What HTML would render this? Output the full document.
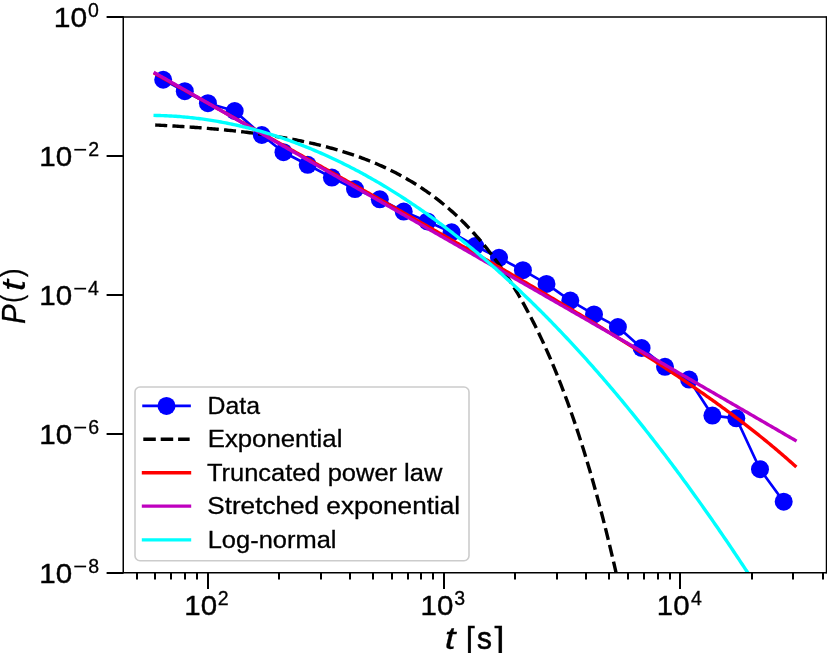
<!DOCTYPE html>
<html><head><meta charset="utf-8"><style>html,body{margin:0;padding:0;background:#fff;width:827px;height:653px;overflow:hidden}svg{display:block;font-family:"Liberation Sans",sans-serif;-webkit-font-smoothing:antialiased;will-change:transform}</style></head><body>
<svg width="827" height="653" viewBox="0 0 827 653" font-family="Liberation Sans, sans-serif">
<rect width="827" height="653" fill="#fff"/>
<defs><clipPath id="ax"><rect x="123.1" y="17.0" width="703.4" height="555.7"/></clipPath></defs>
<g clip-path="url(#ax)">
<path d="M163.20,79.75 L184.80,91.20 L207.90,103.20 L234.70,111.00 L261.80,135.00 L283.50,152.20 L307.70,164.80 L331.90,177.60 L355.00,189.10 L379.80,199.30 L403.70,211.60 L427.40,221.40 L451.60,232.30 L475.20,246.00 L499.00,257.80 L522.90,270.20 L546.50,283.90 L570.30,300.60 L594.00,314.40 L617.90,327.10 L641.60,348.00 L665.00,366.80 L689.10,379.60 L712.40,415.60 L736.30,418.30 L760.00,469.20 L783.70,501.70" fill="none" stroke="#0000ff" stroke-width="2.7" stroke-linejoin="round" stroke-linecap="square"/>
<circle cx="163.2" cy="79.75" r="9.0" fill="#0000ff"/>
<circle cx="184.8" cy="91.2" r="9.0" fill="#0000ff"/>
<circle cx="207.9" cy="103.2" r="9.0" fill="#0000ff"/>
<circle cx="234.7" cy="111.0" r="9.0" fill="#0000ff"/>
<circle cx="261.8" cy="135.0" r="9.0" fill="#0000ff"/>
<circle cx="283.5" cy="152.2" r="9.0" fill="#0000ff"/>
<circle cx="307.7" cy="164.8" r="9.0" fill="#0000ff"/>
<circle cx="331.9" cy="177.6" r="9.0" fill="#0000ff"/>
<circle cx="355.0" cy="189.1" r="9.0" fill="#0000ff"/>
<circle cx="379.8" cy="199.3" r="9.0" fill="#0000ff"/>
<circle cx="403.7" cy="211.6" r="9.0" fill="#0000ff"/>
<circle cx="427.4" cy="221.4" r="9.0" fill="#0000ff"/>
<circle cx="451.6" cy="232.3" r="9.0" fill="#0000ff"/>
<circle cx="475.2" cy="246.0" r="9.0" fill="#0000ff"/>
<circle cx="499.0" cy="257.8" r="9.0" fill="#0000ff"/>
<circle cx="522.9" cy="270.2" r="9.0" fill="#0000ff"/>
<circle cx="546.5" cy="283.9" r="9.0" fill="#0000ff"/>
<circle cx="570.3" cy="300.6" r="9.0" fill="#0000ff"/>
<circle cx="594.0" cy="314.4" r="9.0" fill="#0000ff"/>
<circle cx="617.9" cy="327.1" r="9.0" fill="#0000ff"/>
<circle cx="641.6" cy="348.0" r="9.0" fill="#0000ff"/>
<circle cx="665.0" cy="366.8" r="9.0" fill="#0000ff"/>
<circle cx="689.1" cy="379.6" r="9.0" fill="#0000ff"/>
<circle cx="712.4" cy="415.6" r="9.0" fill="#0000ff"/>
<circle cx="736.3" cy="418.3" r="9.0" fill="#0000ff"/>
<circle cx="760.0" cy="469.2" r="9.0" fill="#0000ff"/>
<circle cx="783.7" cy="501.7" r="9.0" fill="#0000ff"/>
<path d="M155.20,125.01 L156.80,125.09 L158.41,125.17 L160.01,125.25 L161.62,125.33 L163.22,125.42 L164.82,125.51 L166.43,125.59 L168.03,125.68 L169.63,125.77 L171.24,125.87 L172.84,125.96 L174.45,126.05 L176.05,126.15 L177.65,126.25 L179.26,126.35 L180.86,126.45 L182.46,126.55 L184.07,126.66 L185.67,126.76 L187.28,126.87 L188.88,126.98 L190.48,127.09 L192.09,127.20 L193.69,127.32 L195.29,127.43 L196.90,127.55 L198.50,127.67 L200.11,127.79 L201.71,127.92 L203.31,128.04 L204.92,128.17 L206.52,128.30 L208.12,128.43 L209.73,128.57 L211.33,128.70 L212.94,128.84 L214.54,128.98 L216.14,129.12 L217.75,129.27 L219.35,129.42 L220.95,129.57 L222.56,129.72 L224.16,129.87 L225.77,130.03 L227.37,130.19 L228.97,130.35 L230.58,130.51 L232.18,130.68 L233.78,130.85 L235.39,131.02 L236.99,131.20 L238.60,131.37 L240.20,131.55 L241.80,131.74 L243.41,131.92 L245.01,132.11 L246.61,132.30 L248.22,132.50 L249.82,132.70 L251.43,132.90 L253.03,133.10 L254.63,133.31 L256.24,133.52 L257.84,133.73 L259.44,133.95 L261.05,134.17 L262.65,134.40 L264.26,134.62 L265.86,134.86 L267.46,135.09 L269.07,135.33 L270.67,135.57 L272.27,135.82 L273.88,136.07 L275.48,136.32 L277.09,136.58 L278.69,136.84 L280.29,137.11 L281.90,137.38 L283.50,137.66 L285.10,137.93 L286.71,138.22 L288.31,138.51 L289.92,138.80 L291.52,139.10 L293.12,139.40 L294.73,139.70 L296.33,140.02 L297.93,140.33 L299.54,140.65 L301.14,140.98 L302.75,141.31 L304.35,141.65 L305.95,141.99 L307.56,142.34 L309.16,142.69 L310.76,143.05 L312.37,143.41 L313.97,143.78 L315.58,144.16 L317.18,144.54 L318.78,144.93 L320.39,145.32 L321.99,145.72 L323.59,146.13 L325.20,146.54 L326.80,146.96 L328.41,147.39 L330.01,147.82 L331.61,148.26 L333.22,148.70 L334.82,149.16 L336.42,149.62 L338.03,150.08 L339.63,150.56 L341.24,151.04 L342.84,151.53 L344.44,152.03 L346.05,152.53 L347.65,153.05 L349.25,153.57 L350.86,154.10 L352.46,154.64 L354.07,155.18 L355.67,155.74 L357.27,156.30 L358.88,156.88 L360.48,157.46 L362.08,158.05 L363.69,158.65 L365.29,159.26 L366.90,159.88 L368.50,160.51 L370.10,161.15 L371.71,161.80 L373.31,162.46 L374.92,163.13 L376.52,163.81 L378.12,164.50 L379.73,165.20 L381.33,165.91 L382.93,166.64 L384.54,167.37 L386.14,168.12 L387.75,168.88 L389.35,169.65 L390.95,170.43 L392.56,171.23 L394.16,172.04 L395.76,172.86 L397.37,173.69 L398.97,174.54 L400.58,175.40 L402.18,176.27 L403.78,177.16 L405.39,178.06 L406.99,178.98 L408.59,179.91 L410.20,180.85 L411.80,181.81 L413.41,182.78 L415.01,183.77 L416.61,184.78 L418.22,185.80 L419.82,186.84 L421.42,187.89 L423.03,188.96 L424.63,190.05 L426.24,191.15 L427.84,192.28 L429.44,193.42 L431.05,194.57 L432.65,195.75 L434.25,196.94 L435.86,198.16 L437.46,199.39 L439.07,200.64 L440.67,201.91 L442.27,203.20 L443.88,204.51 L445.48,205.85 L447.08,207.20 L448.69,208.57 L450.29,209.97 L451.90,211.39 L453.50,212.83 L455.10,214.29 L456.71,215.78 L458.31,217.29 L459.91,218.82 L461.52,220.38 L463.12,221.96 L464.73,223.57 L466.33,225.20 L467.93,226.86 L469.54,228.54 L471.14,230.25 L472.74,231.99 L474.35,233.75 L475.95,235.55 L477.56,237.37 L479.16,239.22 L480.76,241.10 L482.37,243.01 L483.97,244.94 L485.57,246.91 L487.18,248.91 L488.78,250.94 L490.39,253.01 L491.99,255.10 L493.59,257.23 L495.20,259.40 L496.80,261.59 L498.40,263.82 L500.01,266.09 L501.61,268.39 L503.22,270.73 L504.82,273.11 L506.42,275.52 L508.03,277.97 L509.63,280.46 L511.23,282.99 L512.84,285.55 L514.44,288.16 L516.05,290.81 L517.65,293.50 L519.25,296.24 L520.86,299.01 L522.46,301.84 L524.06,304.70 L525.67,307.61 L527.27,310.57 L528.88,313.57 L530.48,316.62 L532.08,319.72 L533.69,322.86 L535.29,326.06 L536.89,329.31 L538.50,332.60 L540.10,335.95 L541.71,339.36 L543.31,342.81 L544.91,346.32 L546.52,349.89 L548.12,353.51 L549.72,357.19 L551.33,360.93 L552.93,364.72 L554.54,368.58 L556.14,372.49 L557.74,376.47 L559.35,380.51 L560.95,384.62 L562.55,388.79 L564.16,393.02 L565.76,397.32 L567.37,401.69 L568.97,406.13 L570.57,410.64 L572.18,415.21 L573.78,419.87 L575.38,424.59 L576.99,429.39 L578.59,434.26 L580.20,439.21 L581.80,444.24 L583.40,449.35 L585.01,454.54 L586.61,459.81 L588.22,465.16 L589.82,470.60 L591.42,476.12 L593.03,481.73 L594.63,487.43 L596.23,493.22 L597.84,499.10 L599.44,505.07 L601.05,511.14 L602.65,517.30 L604.25,523.56 L605.86,529.91 L607.46,536.37 L609.06,542.93 L610.67,549.59 L612.27,556.36 L613.88,563.23 L615.48,570.22 L617.08,577.31 L618.69,584.51 L620.29,591.83 L621.89,599.26 L623.50,606.81 L625.10,614.48 L626.71,622.27 L628.31,630.18 L629.91,638.22 L631.52,646.38 L633.12,654.67 L634.72,663.10 L636.33,671.65 L637.93,680.34 L639.54,689.17 L641.14,698.13 L642.74,707.24 L644.35,716.49 L645.95,725.89 L647.55,735.43 L649.16,745.12 L650.76,754.97 L652.37,764.97 L653.97,775.13 L655.57,785.45 L657.18,795.93 L658.78,806.58 L660.38,817.40 L661.99,828.38 L663.59,839.54 L665.20,850.87 L666.80,862.39 L668.40,874.08 L670.01,885.96 L671.61,898.02 L673.21,910.28 L674.82,922.73 L676.42,935.37 L678.03,948.22 L679.63,961.26 L681.23,974.51 L682.84,987.97 L684.44,1001.64 L686.04,1015.53 L687.65,1029.64 L689.25,1043.97 L690.86,1058.52 L692.46,1073.30 L694.06,1088.32 L695.67,1103.57 L697.27,1119.06 L698.87,1134.80 L700.48,1150.79 L702.08,1167.02 L703.69,1183.51 L705.29,1200.27 L706.89,1217.28 L708.50,1234.56 L710.10,1252.12 L711.70,1269.95 L713.31,1288.07 L714.91,1306.46 L716.52,1325.15 L718.12,1344.14 L719.72,1363.42 L721.33,1383.00 L722.93,1402.90 L724.53,1423.10 L726.14,1443.63 L727.74,1464.48 L729.35,1485.65 L730.95,1507.17 L732.55,1529.01 L734.16,1551.21 L735.76,1573.75 L737.36,1596.65 L738.97,1619.91 L740.57,1643.53 L742.18,1667.53 L743.78,1691.91 L745.38,1716.66 L746.99,1741.81 L748.59,1767.36 L750.19,1793.31 L751.80,1819.66 L753.40,1846.43 L755.01,1873.63 L756.61,1901.25 L758.21,1929.30 L759.82,1957.80 L761.42,1986.75 L763.02,2016.15 L764.63,2046.02 L766.23,2076.36 L767.84,2107.17 L769.44,2138.47 L771.04,2170.26 L772.65,2202.56 L774.25,2235.36 L775.85,2268.68 L777.46,2302.52 L779.06,2336.90 L780.67,2371.81 L782.27,2407.28 L783.87,2443.31 L785.48,2479.90 L787.08,2517.07 L788.68,2554.83 L790.29,2593.18 L791.89,2632.13 L793.50,2671.70 L795.10,2711.89" fill="none" stroke="#000" stroke-width="3.4" stroke-dasharray="12.05 5.19" stroke-linejoin="round"/>
<path d="M155.20,73.70 L156.80,74.60 L158.41,75.49 L160.01,76.39 L161.62,77.29 L163.22,78.19 L164.82,79.09 L166.43,79.98 L168.03,80.88 L169.63,81.78 L171.24,82.68 L172.84,83.58 L174.45,84.47 L176.05,85.37 L177.65,86.27 L179.26,87.17 L180.86,88.06 L182.46,88.96 L184.07,89.86 L185.67,90.76 L187.28,91.65 L188.88,92.55 L190.48,93.45 L192.09,94.35 L193.69,95.24 L195.29,96.14 L196.90,97.04 L198.50,97.93 L200.11,98.83 L201.71,99.73 L203.31,100.62 L204.92,101.52 L206.52,102.42 L208.12,103.32 L209.73,104.21 L211.33,105.11 L212.94,106.01 L214.54,106.90 L216.14,107.80 L217.75,108.70 L219.35,109.59 L220.95,110.49 L222.56,111.39 L224.16,112.28 L225.77,113.18 L227.37,114.08 L228.97,114.97 L230.58,115.87 L232.18,116.77 L233.78,117.66 L235.39,118.56 L236.99,119.45 L238.60,120.35 L240.20,121.25 L241.80,122.14 L243.41,123.04 L245.01,123.94 L246.61,124.83 L248.22,125.73 L249.82,126.63 L251.43,127.52 L253.03,128.42 L254.63,129.32 L256.24,130.21 L257.84,131.11 L259.44,132.00 L261.05,132.90 L262.65,133.80 L264.26,134.69 L265.86,135.59 L267.46,136.49 L269.07,137.38 L270.67,138.28 L272.27,139.18 L273.88,140.07 L275.48,140.97 L277.09,141.87 L278.69,142.76 L280.29,143.66 L281.90,144.56 L283.50,145.45 L285.10,146.35 L286.71,147.25 L288.31,148.14 L289.92,149.04 L291.52,149.94 L293.12,150.83 L294.73,151.73 L296.33,152.63 L297.93,153.52 L299.54,154.42 L301.14,155.32 L302.75,156.21 L304.35,157.11 L305.95,158.01 L307.56,158.91 L309.16,159.80 L310.76,160.70 L312.37,161.60 L313.97,162.50 L315.58,163.39 L317.18,164.29 L318.78,165.19 L320.39,166.09 L321.99,166.98 L323.59,167.88 L325.20,168.78 L326.80,169.68 L328.41,170.58 L330.01,171.47 L331.61,172.37 L333.22,173.27 L334.82,174.17 L336.42,175.07 L338.03,175.97 L339.63,176.87 L341.24,177.76 L342.84,178.66 L344.44,179.56 L346.05,180.46 L347.65,181.36 L349.25,182.26 L350.86,183.16 L352.46,184.06 L354.07,184.96 L355.67,185.86 L357.27,186.76 L358.88,187.66 L360.48,188.56 L362.08,189.46 L363.69,190.36 L365.29,191.26 L366.90,192.16 L368.50,193.06 L370.10,193.96 L371.71,194.86 L373.31,195.76 L374.92,196.66 L376.52,197.56 L378.12,198.47 L379.73,199.37 L381.33,200.27 L382.93,201.17 L384.54,202.07 L386.14,202.98 L387.75,203.88 L389.35,204.78 L390.95,205.68 L392.56,206.59 L394.16,207.49 L395.76,208.39 L397.37,209.30 L398.97,210.20 L400.58,211.10 L402.18,212.01 L403.78,212.91 L405.39,213.82 L406.99,214.72 L408.59,215.63 L410.20,216.53 L411.80,217.44 L413.41,218.34 L415.01,219.25 L416.61,220.16 L418.22,221.06 L419.82,221.97 L421.42,222.88 L423.03,223.78 L424.63,224.69 L426.24,225.60 L427.84,226.50 L429.44,227.41 L431.05,228.32 L432.65,229.23 L434.25,230.14 L435.86,231.05 L437.46,231.96 L439.07,232.87 L440.67,233.78 L442.27,234.69 L443.88,235.60 L445.48,236.51 L447.08,237.42 L448.69,238.33 L450.29,239.24 L451.90,240.15 L453.50,241.07 L455.10,241.98 L456.71,242.89 L458.31,243.81 L459.91,244.72 L461.52,245.63 L463.12,246.55 L464.73,247.46 L466.33,248.38 L467.93,249.29 L469.54,250.21 L471.14,251.13 L472.74,252.04 L474.35,252.96 L475.95,253.88 L477.56,254.80 L479.16,255.72 L480.76,256.63 L482.37,257.55 L483.97,258.47 L485.57,259.39 L487.18,260.32 L488.78,261.24 L490.39,262.16 L491.99,263.08 L493.59,264.00 L495.20,264.93 L496.80,265.85 L498.40,266.77 L500.01,267.70 L501.61,268.62 L503.22,269.55 L504.82,270.48 L506.42,271.40 L508.03,272.33 L509.63,273.26 L511.23,274.19 L512.84,275.11 L514.44,276.04 L516.05,276.97 L517.65,277.91 L519.25,278.84 L520.86,279.77 L522.46,280.70 L524.06,281.64 L525.67,282.57 L527.27,283.50 L528.88,284.44 L530.48,285.38 L532.08,286.31 L533.69,287.25 L535.29,288.19 L536.89,289.13 L538.50,290.07 L540.10,291.01 L541.71,291.95 L543.31,292.89 L544.91,293.83 L546.52,294.78 L548.12,295.72 L549.72,296.67 L551.33,297.61 L552.93,298.56 L554.54,299.51 L556.14,300.46 L557.74,301.40 L559.35,302.36 L560.95,303.31 L562.55,304.26 L564.16,305.21 L565.76,306.17 L567.37,307.12 L568.97,308.08 L570.57,309.03 L572.18,309.99 L573.78,310.95 L575.38,311.91 L576.99,312.87 L578.59,313.83 L580.20,314.80 L581.80,315.76 L583.40,316.73 L585.01,317.69 L586.61,318.66 L588.22,319.63 L589.82,320.60 L591.42,321.57 L593.03,322.55 L594.63,323.52 L596.23,324.50 L597.84,325.47 L599.44,326.45 L601.05,327.43 L602.65,328.41 L604.25,329.39 L605.86,330.37 L607.46,331.36 L609.06,332.34 L610.67,333.33 L612.27,334.32 L613.88,335.31 L615.48,336.30 L617.08,337.30 L618.69,338.29 L620.29,339.29 L621.89,340.29 L623.50,341.29 L625.10,342.29 L626.71,343.29 L628.31,344.30 L629.91,345.30 L631.52,346.31 L633.12,347.32 L634.72,348.33 L636.33,349.35 L637.93,350.36 L639.54,351.38 L641.14,352.40 L642.74,353.42 L644.35,354.44 L645.95,355.47 L647.55,356.50 L649.16,357.53 L650.76,358.56 L652.37,359.59 L653.97,360.63 L655.57,361.67 L657.18,362.71 L658.78,363.75 L660.38,364.79 L661.99,365.84 L663.59,366.89 L665.20,367.94 L666.80,369.00 L668.40,370.06 L670.01,371.12 L671.61,372.18 L673.21,373.24 L674.82,374.31 L676.42,375.38 L678.03,376.45 L679.63,377.53 L681.23,378.61 L682.84,379.69 L684.44,380.77 L686.04,381.86 L687.65,382.95 L689.25,384.04 L690.86,385.14 L692.46,386.24 L694.06,387.34 L695.67,388.45 L697.27,389.55 L698.87,390.67 L700.48,391.78 L702.08,392.90 L703.69,394.02 L705.29,395.15 L706.89,396.28 L708.50,397.41 L710.10,398.55 L711.70,399.69 L713.31,400.83 L714.91,401.98 L716.52,403.13 L718.12,404.29 L719.72,405.45 L721.33,406.61 L722.93,407.78 L724.53,408.96 L726.14,410.13 L727.74,411.31 L729.35,412.50 L730.95,413.69 L732.55,414.88 L734.16,416.08 L735.76,417.29 L737.36,418.50 L738.97,419.71 L740.57,420.93 L742.18,422.15 L743.78,423.38 L745.38,424.62 L746.99,425.85 L748.59,427.10 L750.19,428.35 L751.80,429.60 L753.40,430.86 L755.01,432.13 L756.61,433.40 L758.21,434.68 L759.82,435.97 L761.42,437.25 L763.02,438.55 L764.63,439.85 L766.23,441.16 L767.84,442.48 L769.44,443.80 L771.04,445.13 L772.65,446.46 L774.25,447.80 L775.85,449.15 L777.46,450.51 L779.06,451.87 L780.67,453.24 L782.27,454.61 L783.87,456.00 L785.48,457.39 L787.08,458.79 L788.68,460.20 L790.29,461.61 L791.89,463.04 L793.50,464.47 L795.10,465.91" fill="none" stroke="#ff0000" stroke-width="3.4" stroke-linecap="square" stroke-linejoin="round"/>
<path d="M155.20,73.13 L156.80,74.05 L158.41,74.96 L160.01,75.87 L161.62,76.78 L163.22,77.69 L164.82,78.60 L166.43,79.52 L168.03,80.43 L169.63,81.34 L171.24,82.25 L172.84,83.16 L174.45,84.08 L176.05,84.99 L177.65,85.90 L179.26,86.81 L180.86,87.73 L182.46,88.64 L184.07,89.55 L185.67,90.46 L187.28,91.37 L188.88,92.29 L190.48,93.20 L192.09,94.11 L193.69,95.02 L195.29,95.94 L196.90,96.85 L198.50,97.76 L200.11,98.67 L201.71,99.59 L203.31,100.50 L204.92,101.41 L206.52,102.32 L208.12,103.24 L209.73,104.15 L211.33,105.06 L212.94,105.97 L214.54,106.89 L216.14,107.80 L217.75,108.71 L219.35,109.63 L220.95,110.54 L222.56,111.45 L224.16,112.36 L225.77,113.28 L227.37,114.19 L228.97,115.10 L230.58,116.02 L232.18,116.93 L233.78,117.84 L235.39,118.76 L236.99,119.67 L238.60,120.58 L240.20,121.50 L241.80,122.41 L243.41,123.32 L245.01,124.24 L246.61,125.15 L248.22,126.06 L249.82,126.98 L251.43,127.89 L253.03,128.80 L254.63,129.72 L256.24,130.63 L257.84,131.54 L259.44,132.46 L261.05,133.37 L262.65,134.28 L264.26,135.20 L265.86,136.11 L267.46,137.03 L269.07,137.94 L270.67,138.85 L272.27,139.77 L273.88,140.68 L275.48,141.60 L277.09,142.51 L278.69,143.42 L280.29,144.34 L281.90,145.25 L283.50,146.17 L285.10,147.08 L286.71,147.99 L288.31,148.91 L289.92,149.82 L291.52,150.74 L293.12,151.65 L294.73,152.57 L296.33,153.48 L297.93,154.39 L299.54,155.31 L301.14,156.22 L302.75,157.14 L304.35,158.05 L305.95,158.97 L307.56,159.88 L309.16,160.80 L310.76,161.71 L312.37,162.63 L313.97,163.54 L315.58,164.46 L317.18,165.37 L318.78,166.29 L320.39,167.20 L321.99,168.12 L323.59,169.03 L325.20,169.95 L326.80,170.86 L328.41,171.78 L330.01,172.69 L331.61,173.61 L333.22,174.52 L334.82,175.44 L336.42,176.35 L338.03,177.27 L339.63,178.18 L341.24,179.10 L342.84,180.01 L344.44,180.93 L346.05,181.85 L347.65,182.76 L349.25,183.68 L350.86,184.59 L352.46,185.51 L354.07,186.42 L355.67,187.34 L357.27,188.26 L358.88,189.17 L360.48,190.09 L362.08,191.00 L363.69,191.92 L365.29,192.84 L366.90,193.75 L368.50,194.67 L370.10,195.58 L371.71,196.50 L373.31,197.42 L374.92,198.33 L376.52,199.25 L378.12,200.17 L379.73,201.08 L381.33,202.00 L382.93,202.92 L384.54,203.83 L386.14,204.75 L387.75,205.67 L389.35,206.58 L390.95,207.50 L392.56,208.42 L394.16,209.33 L395.76,210.25 L397.37,211.17 L398.97,212.08 L400.58,213.00 L402.18,213.92 L403.78,214.83 L405.39,215.75 L406.99,216.67 L408.59,217.59 L410.20,218.50 L411.80,219.42 L413.41,220.34 L415.01,221.26 L416.61,222.17 L418.22,223.09 L419.82,224.01 L421.42,224.93 L423.03,225.84 L424.63,226.76 L426.24,227.68 L427.84,228.60 L429.44,229.51 L431.05,230.43 L432.65,231.35 L434.25,232.27 L435.86,233.19 L437.46,234.10 L439.07,235.02 L440.67,235.94 L442.27,236.86 L443.88,237.78 L445.48,238.70 L447.08,239.61 L448.69,240.53 L450.29,241.45 L451.90,242.37 L453.50,243.29 L455.10,244.21 L456.71,245.12 L458.31,246.04 L459.91,246.96 L461.52,247.88 L463.12,248.80 L464.73,249.72 L466.33,250.64 L467.93,251.56 L469.54,252.48 L471.14,253.39 L472.74,254.31 L474.35,255.23 L475.95,256.15 L477.56,257.07 L479.16,257.99 L480.76,258.91 L482.37,259.83 L483.97,260.75 L485.57,261.67 L487.18,262.59 L488.78,263.51 L490.39,264.43 L491.99,265.35 L493.59,266.27 L495.20,267.19 L496.80,268.11 L498.40,269.03 L500.01,269.95 L501.61,270.87 L503.22,271.79 L504.82,272.71 L506.42,273.63 L508.03,274.55 L509.63,275.47 L511.23,276.39 L512.84,277.31 L514.44,278.23 L516.05,279.15 L517.65,280.07 L519.25,280.99 L520.86,281.91 L522.46,282.83 L524.06,283.75 L525.67,284.67 L527.27,285.60 L528.88,286.52 L530.48,287.44 L532.08,288.36 L533.69,289.28 L535.29,290.20 L536.89,291.12 L538.50,292.04 L540.10,292.97 L541.71,293.89 L543.31,294.81 L544.91,295.73 L546.52,296.65 L548.12,297.57 L549.72,298.49 L551.33,299.42 L552.93,300.34 L554.54,301.26 L556.14,302.18 L557.74,303.10 L559.35,304.03 L560.95,304.95 L562.55,305.87 L564.16,306.79 L565.76,307.71 L567.37,308.64 L568.97,309.56 L570.57,310.48 L572.18,311.40 L573.78,312.33 L575.38,313.25 L576.99,314.17 L578.59,315.10 L580.20,316.02 L581.80,316.94 L583.40,317.86 L585.01,318.79 L586.61,319.71 L588.22,320.63 L589.82,321.56 L591.42,322.48 L593.03,323.40 L594.63,324.33 L596.23,325.25 L597.84,326.17 L599.44,327.10 L601.05,328.02 L602.65,328.94 L604.25,329.87 L605.86,330.79 L607.46,331.71 L609.06,332.64 L610.67,333.56 L612.27,334.49 L613.88,335.41 L615.48,336.34 L617.08,337.26 L618.69,338.18 L620.29,339.11 L621.89,340.03 L623.50,340.96 L625.10,341.88 L626.71,342.81 L628.31,343.73 L629.91,344.66 L631.52,345.58 L633.12,346.50 L634.72,347.43 L636.33,348.35 L637.93,349.28 L639.54,350.20 L641.14,351.13 L642.74,352.06 L644.35,352.98 L645.95,353.91 L647.55,354.83 L649.16,355.76 L650.76,356.68 L652.37,357.61 L653.97,358.53 L655.57,359.46 L657.18,360.38 L658.78,361.31 L660.38,362.24 L661.99,363.16 L663.59,364.09 L665.20,365.01 L666.80,365.94 L668.40,366.87 L670.01,367.79 L671.61,368.72 L673.21,369.65 L674.82,370.57 L676.42,371.50 L678.03,372.43 L679.63,373.35 L681.23,374.28 L682.84,375.21 L684.44,376.13 L686.04,377.06 L687.65,377.99 L689.25,378.91 L690.86,379.84 L692.46,380.77 L694.06,381.70 L695.67,382.62 L697.27,383.55 L698.87,384.48 L700.48,385.41 L702.08,386.33 L703.69,387.26 L705.29,388.19 L706.89,389.12 L708.50,390.05 L710.10,390.97 L711.70,391.90 L713.31,392.83 L714.91,393.76 L716.52,394.69 L718.12,395.61 L719.72,396.54 L721.33,397.47 L722.93,398.40 L724.53,399.33 L726.14,400.26 L727.74,401.19 L729.35,402.12 L730.95,403.04 L732.55,403.97 L734.16,404.90 L735.76,405.83 L737.36,406.76 L738.97,407.69 L740.57,408.62 L742.18,409.55 L743.78,410.48 L745.38,411.41 L746.99,412.34 L748.59,413.27 L750.19,414.20 L751.80,415.13 L753.40,416.06 L755.01,416.99 L756.61,417.92 L758.21,418.85 L759.82,419.78 L761.42,420.71 L763.02,421.64 L764.63,422.57 L766.23,423.50 L767.84,424.43 L769.44,425.36 L771.04,426.29 L772.65,427.22 L774.25,428.15 L775.85,429.08 L777.46,430.02 L779.06,430.95 L780.67,431.88 L782.27,432.81 L783.87,433.74 L785.48,434.67 L787.08,435.60 L788.68,436.53 L790.29,437.47 L791.89,438.40 L793.50,439.33 L795.10,440.26" fill="none" stroke="#bf00bf" stroke-width="3.4" stroke-linecap="square" stroke-linejoin="round"/>
<path d="M155.20,115.43 L156.80,115.46 L158.41,115.49 L160.01,115.53 L161.62,115.58 L163.22,115.64 L164.82,115.70 L166.43,115.77 L168.03,115.84 L169.63,115.93 L171.24,116.01 L172.84,116.11 L174.45,116.21 L176.05,116.32 L177.65,116.43 L179.26,116.55 L180.86,116.68 L182.46,116.82 L184.07,116.96 L185.67,117.10 L187.28,117.26 L188.88,117.42 L190.48,117.58 L192.09,117.76 L193.69,117.94 L195.29,118.13 L196.90,118.32 L198.50,118.52 L200.11,118.72 L201.71,118.94 L203.31,119.16 L204.92,119.38 L206.52,119.62 L208.12,119.85 L209.73,120.10 L211.33,120.35 L212.94,120.61 L214.54,120.88 L216.14,121.15 L217.75,121.43 L219.35,121.71 L220.95,122.00 L222.56,122.30 L224.16,122.61 L225.77,122.92 L227.37,123.24 L228.97,123.56 L230.58,123.89 L232.18,124.23 L233.78,124.57 L235.39,124.92 L236.99,125.28 L238.60,125.65 L240.20,126.02 L241.80,126.39 L243.41,126.78 L245.01,127.17 L246.61,127.56 L248.22,127.97 L249.82,128.38 L251.43,128.79 L253.03,129.21 L254.63,129.64 L256.24,130.08 L257.84,130.52 L259.44,130.97 L261.05,131.43 L262.65,131.89 L264.26,132.36 L265.86,132.83 L267.46,133.31 L269.07,133.80 L270.67,134.30 L272.27,134.80 L273.88,135.31 L275.48,135.82 L277.09,136.34 L278.69,136.87 L280.29,137.41 L281.90,137.95 L283.50,138.49 L285.10,139.05 L286.71,139.61 L288.31,140.18 L289.92,140.75 L291.52,141.33 L293.12,141.92 L294.73,142.51 L296.33,143.11 L297.93,143.72 L299.54,144.33 L301.14,144.95 L302.75,145.57 L304.35,146.21 L305.95,146.85 L307.56,147.49 L309.16,148.14 L310.76,148.80 L312.37,149.47 L313.97,150.14 L315.58,150.82 L317.18,151.51 L318.78,152.20 L320.39,152.90 L321.99,153.60 L323.59,154.31 L325.20,155.03 L326.80,155.75 L328.41,156.48 L330.01,157.22 L331.61,157.97 L333.22,158.72 L334.82,159.47 L336.42,160.24 L338.03,161.01 L339.63,161.79 L341.24,162.57 L342.84,163.36 L344.44,164.16 L346.05,164.96 L347.65,165.77 L349.25,166.59 L350.86,167.41 L352.46,168.24 L354.07,169.07 L355.67,169.92 L357.27,170.77 L358.88,171.62 L360.48,172.48 L362.08,173.35 L363.69,174.23 L365.29,175.11 L366.90,176.00 L368.50,176.89 L370.10,177.80 L371.71,178.70 L373.31,179.62 L374.92,180.54 L376.52,181.47 L378.12,182.40 L379.73,183.34 L381.33,184.29 L382.93,185.24 L384.54,186.20 L386.14,187.17 L387.75,188.15 L389.35,189.13 L390.95,190.11 L392.56,191.11 L394.16,192.11 L395.76,193.11 L397.37,194.13 L398.97,195.15 L400.58,196.17 L402.18,197.20 L403.78,198.24 L405.39,199.29 L406.99,200.34 L408.59,201.40 L410.20,202.47 L411.80,203.54 L413.41,204.62 L415.01,205.70 L416.61,206.80 L418.22,207.89 L419.82,209.00 L421.42,210.11 L423.03,211.23 L424.63,212.35 L426.24,213.48 L427.84,214.62 L429.44,215.77 L431.05,216.92 L432.65,218.07 L434.25,219.24 L435.86,220.41 L437.46,221.59 L439.07,222.77 L440.67,223.96 L442.27,225.16 L443.88,226.36 L445.48,227.57 L447.08,228.79 L448.69,230.01 L450.29,231.24 L451.90,232.47 L453.50,233.72 L455.10,234.97 L456.71,236.22 L458.31,237.48 L459.91,238.75 L461.52,240.03 L463.12,241.31 L464.73,242.60 L466.33,243.89 L467.93,245.20 L469.54,246.50 L471.14,247.82 L472.74,249.14 L474.35,250.47 L475.95,251.80 L477.56,253.14 L479.16,254.49 L480.76,255.85 L482.37,257.21 L483.97,258.57 L485.57,259.95 L487.18,261.33 L488.78,262.72 L490.39,264.11 L491.99,265.51 L493.59,266.92 L495.20,268.33 L496.80,269.75 L498.40,271.18 L500.01,272.61 L501.61,274.05 L503.22,275.49 L504.82,276.95 L506.42,278.41 L508.03,279.87 L509.63,281.34 L511.23,282.82 L512.84,284.31 L514.44,285.80 L516.05,287.30 L517.65,288.80 L519.25,290.31 L520.86,291.83 L522.46,293.36 L524.06,294.89 L525.67,296.43 L527.27,297.97 L528.88,299.52 L530.48,301.08 L532.08,302.64 L533.69,304.21 L535.29,305.79 L536.89,307.38 L538.50,308.97 L540.10,310.56 L541.71,312.17 L543.31,313.78 L544.91,315.39 L546.52,317.02 L548.12,318.64 L549.72,320.28 L551.33,321.92 L552.93,323.57 L554.54,325.23 L556.14,326.89 L557.74,328.56 L559.35,330.24 L560.95,331.92 L562.55,333.61 L564.16,335.30 L565.76,337.00 L567.37,338.71 L568.97,340.43 L570.57,342.15 L572.18,343.88 L573.78,345.61 L575.38,347.35 L576.99,349.10 L578.59,350.85 L580.20,352.62 L581.80,354.38 L583.40,356.16 L585.01,357.94 L586.61,359.72 L588.22,361.52 L589.82,363.32 L591.42,365.13 L593.03,366.94 L594.63,368.76 L596.23,370.58 L597.84,372.42 L599.44,374.26 L601.05,376.10 L602.65,377.96 L604.25,379.82 L605.86,381.68 L607.46,383.55 L609.06,385.43 L610.67,387.32 L612.27,389.21 L613.88,391.11 L615.48,393.01 L617.08,394.93 L618.69,396.84 L620.29,398.77 L621.89,400.70 L623.50,402.64 L625.10,404.58 L626.71,406.53 L628.31,408.49 L629.91,410.45 L631.52,412.43 L633.12,414.40 L634.72,416.39 L636.33,418.38 L637.93,420.37 L639.54,422.38 L641.14,424.39 L642.74,426.40 L644.35,428.43 L645.95,430.46 L647.55,432.49 L649.16,434.54 L650.76,436.59 L652.37,438.64 L653.97,440.70 L655.57,442.77 L657.18,444.85 L658.78,446.93 L660.38,449.02 L661.99,451.12 L663.59,453.22 L665.20,455.33 L666.80,457.44 L668.40,459.56 L670.01,461.69 L671.61,463.83 L673.21,465.97 L674.82,468.11 L676.42,470.27 L678.03,472.43 L679.63,474.60 L681.23,476.77 L682.84,478.95 L684.44,481.14 L686.04,483.33 L687.65,485.53 L689.25,487.74 L690.86,489.95 L692.46,492.17 L694.06,494.40 L695.67,496.63 L697.27,498.87 L698.87,501.12 L700.48,503.37 L702.08,505.63 L703.69,507.90 L705.29,510.17 L706.89,512.45 L708.50,514.73 L710.10,517.03 L711.70,519.32 L713.31,521.63 L714.91,523.94 L716.52,526.26 L718.12,528.58 L719.72,530.92 L721.33,533.25 L722.93,535.60 L724.53,537.95 L726.14,540.31 L727.74,542.67 L729.35,545.04 L730.95,547.42 L732.55,549.80 L734.16,552.19 L735.76,554.59 L737.36,557.00 L738.97,559.41 L740.57,561.82 L742.18,564.25 L743.78,566.68 L745.38,569.11 L746.99,571.55 L748.59,574.00 L750.19,576.46 L751.80,578.92 L753.40,581.39 L755.01,583.87 L756.61,586.35 L758.21,588.84 L759.82,591.33 L761.42,593.84 L763.02,596.35 L764.63,598.86 L766.23,601.38 L767.84,603.91 L769.44,606.45 L771.04,608.99 L772.65,611.53 L774.25,614.09 L775.85,616.65 L777.46,619.22 L779.06,621.79 L780.67,624.37 L782.27,626.96 L783.87,629.55 L785.48,632.15 L787.08,634.76 L788.68,637.37 L790.29,639.99 L791.89,642.62 L793.50,645.25 L795.10,647.89" fill="none" stroke="#00ffff" stroke-width="3.4" stroke-linecap="square" stroke-linejoin="round"/>
</g>
<path d="M122.5,17.0H826.5M122.5,572.7H826.5" stroke="#000" stroke-width="1.6" fill="none"/>
<path d="M123.25,16.2V573.5M826.5,16.2V573.5" stroke="#000" stroke-width="1.5" fill="none"/>
<path d="M106.60,17.00H123.10M106.60,156.00H123.10M106.60,295.00H123.10M106.60,434.00H123.10M106.60,573.00H123.10M208.00,572.70V589.00M444.00,572.70V589.00M680.00,572.70V589.00M137.00,572.70V579.50M155.00,572.70V579.50M171.00,572.70V579.50M185.00,572.70V579.50M197.00,572.70V579.50M279.00,572.70V579.50M321.00,572.70V579.50M350.00,572.70V579.50M373.00,572.70V579.50M392.00,572.70V579.50M408.00,572.70V579.50M421.00,572.70V579.50M433.00,572.70V579.50M515.00,572.70V579.50M557.00,572.70V579.50M586.00,572.70V579.50M609.00,572.70V579.50M628.00,572.70V579.50M644.00,572.70V579.50M658.00,572.70V579.50M670.00,572.70V579.50M752.00,572.70V579.50M793.00,572.70V579.50M823.00,572.70V579.50" stroke="#000" stroke-width="2.0" fill="none"/>
<rect x="135.0" y="387.0" width="334.0" height="173.7" rx="5" fill="#fff" fill-opacity="0.8" stroke="#cccccc" stroke-width="1.6"/>
<path d="M143.6,405.9H189.5" stroke="#0000ff" stroke-width="2.7" stroke-linecap="square"/>
<circle cx="166.5" cy="405.9" r="9.0" fill="#0000ff"/>
<path d="M143.3,439.2H189.65" stroke="#000" stroke-width="3.4" stroke-dasharray="12.5 4.9"/>
<path d="M143.5,472.7H189.5" stroke="#ff0000" stroke-width="3.4" stroke-linecap="square"/>
<path d="M143.5,506.1H189.5" stroke="#bf00bf" stroke-width="3.4" stroke-linecap="square"/>
<path d="M143.5,539.9H189.5" stroke="#00ffff" stroke-width="3.4" stroke-linecap="square"/>
<text transform="translate(207.56,413.70) scale(1.0258,1)" font-size="24.20" font-style="normal" stroke="#000" stroke-width="0.3">Data</text>
<text transform="translate(207.69,447.20) scale(1.0654,1)" font-size="24.20" font-style="normal" stroke="#000" stroke-width="0.3">Exponential</text>
<text transform="translate(206.93,480.65) scale(1.0529,1)" font-size="24.20" font-style="normal" stroke="#000" stroke-width="0.3">Truncated power law</text>
<text transform="translate(207.21,514.10) scale(1.0805,1)" font-size="24.20" font-style="normal" stroke="#000" stroke-width="0.3">Stretched exponential</text>
<text transform="translate(207.71,547.60) scale(1.0522,1)" font-size="24.20" font-style="normal" stroke="#000" stroke-width="0.3">Log-normal</text>
<text transform="translate(53.81,26.93) scale(1.0862,1)" font-size="27.70" font-style="normal" stroke="#000" stroke-width="0.4">10</text>
<text transform="translate(88.12,17.01) scale(1.0000,1)" font-size="19.50" font-style="normal" stroke="#000" stroke-width="0.3">0</text>
<text transform="translate(39.35,165.86) scale(1.0681,1)" font-size="27.70" font-style="normal" stroke="#000" stroke-width="0.4">10</text>
<text transform="translate(88.34,156.12) scale(1.0000,1)" font-size="19.50" font-style="normal" stroke="#000" stroke-width="0.3">2</text>
<rect x="74.3" y="148.88" width="11.8" height="1.7" fill="#000"/>
<text transform="translate(39.35,304.78) scale(1.0681,1)" font-size="27.70" font-style="normal" stroke="#000" stroke-width="0.4">10</text>
<text transform="translate(87.93,295.05) scale(1.0000,1)" font-size="19.50" font-style="normal" stroke="#000" stroke-width="0.3">4</text>
<rect x="74.3" y="287.80" width="11.8" height="1.7" fill="#000"/>
<text transform="translate(39.35,443.71) scale(1.0681,1)" font-size="27.70" font-style="normal" stroke="#000" stroke-width="0.4">10</text>
<text transform="translate(88.21,433.78) scale(1.0000,1)" font-size="19.50" font-style="normal" stroke="#000" stroke-width="0.3">6</text>
<rect x="74.3" y="426.73" width="11.8" height="1.7" fill="#000"/>
<text transform="translate(39.35,582.63) scale(1.0681,1)" font-size="27.70" font-style="normal" stroke="#000" stroke-width="0.4">10</text>
<text transform="translate(88.20,572.71) scale(1.0000,1)" font-size="19.50" font-style="normal" stroke="#000" stroke-width="0.3">8</text>
<rect x="74.3" y="565.65" width="11.8" height="1.7" fill="#000"/>
<text transform="translate(184.25,614.53) scale(1.0645,1)" font-size="27.70" font-style="normal" stroke="#000" stroke-width="0.4">10</text>
<text transform="translate(217.82,604.90) scale(1.0000,1)" font-size="19.50" font-style="normal" stroke="#000" stroke-width="0.3">2</text>
<text transform="translate(420.55,614.53) scale(1.0645,1)" font-size="27.70" font-style="normal" stroke="#000" stroke-width="0.4">10</text>
<text transform="translate(454.36,604.71) scale(1.0000,1)" font-size="19.50" font-style="normal" stroke="#000" stroke-width="0.3">3</text>
<text transform="translate(656.85,614.53) scale(1.0645,1)" font-size="27.70" font-style="normal" stroke="#000" stroke-width="0.4">10</text>
<text transform="translate(690.95,604.90) scale(1.0000,1)" font-size="19.50" font-style="normal" stroke="#000" stroke-width="0.3">4</text>
<text transform="translate(444.83,649.30) scale(1.2586,1)" font-size="30.94" font-style="italic" stroke="#000" stroke-width="0.25">t</text>
<text transform="translate(465.77,649.30) scale(1.0551,1)" font-size="31.00" font-style="normal" stroke="#000" stroke-width="0.3">[</text>
<text transform="translate(477.07,649.30) scale(0.9467,1)" font-size="31.49" font-style="normal" stroke="#000" stroke-width="0.6">s</text>
<text transform="translate(494.42,649.30) scale(1.1525,1)" font-size="31.00" font-style="normal" stroke="#000" stroke-width="0.3">]</text>
<g transform="translate(24.5,323.2) rotate(-90)">
<text transform="translate(-0.70,0.00) scale(0.8710,1)" font-size="33.72" font-style="italic" stroke="#000" stroke-width="0.3">P</text>
<text transform="translate(20.53,-2.44) scale(0.7878,1)" font-size="30.16" font-style="normal" stroke="#000" stroke-width="0.35">(</text>
<text transform="translate(32.20,0.00) scale(1.2102,1)" font-size="32.79" font-style="italic" stroke="#000" stroke-width="0.15">t</text>
<text transform="translate(46.25,-2.44) scale(0.8503,1)" font-size="30.16" font-style="normal" stroke="#000" stroke-width="0.35">)</text>
</g>
</svg>
</body></html>
